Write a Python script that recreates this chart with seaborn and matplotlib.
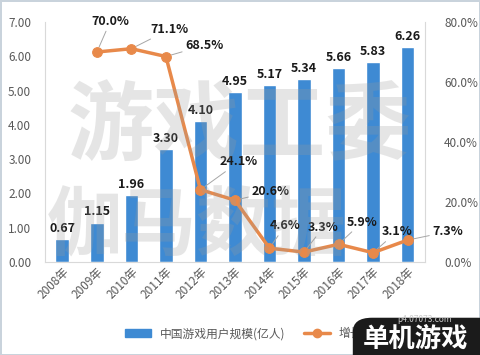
import matplotlib.pyplot as plt
import seaborn as sns
import numpy as np
import pandas as pd
from matplotlib.patches import FancyBboxPatch, Patch
from matplotlib.lines import Line2D

sns.set_style('white')
plt.rcParams['font.family'] = ['Noto Sans CJK SC', 'DejaVu Sans']
plt.rcParams['axes.unicode_minus'] = False

# 数据
years = ['2008年', '2009年', '2010年', '2011年', '2012年', '2013年',
         '2014年', '2015年', '2016年', '2017年', '2018年']
users = [0.67, 1.15, 1.96, 3.30, 4.10, 4.95, 5.17, 5.34, 5.66, 5.83, 6.26]
growth_years = years[1:]
growth = [70.0, 71.1, 68.5, 24.1, 20.6, 4.6, 3.3, 5.9, 3.1, 7.3]
# 增长率标签偏移（像素）
label_offsets = [(-4, 22), (14, 14), (14, 8), (14, 20), (12, 6),
                 (0, 16), (3, 18), (6, 16), (6, 15), (18, 6)]

bar_color = '#3E8AD3'
line_color = '#E8894A'
tick_color = '#595959'

df = pd.DataFrame({'year': years, 'users': users})
gdf = pd.DataFrame({'pos': [years.index(y) for y in growth_years], 'growth': growth})

fig = plt.figure(figsize=(4.8, 3.55), dpi=100)
ax = fig.add_axes([0.094, 0.262, 0.791, 0.676])

sns.barplot(data=df, x='year', y='users', color=bar_color, width=0.4,
            saturation=1, ax=ax, zorder=2)
ax.set_ylim(0, 7)
ax.set_yticks(np.arange(0, 7.01, 1))
ax.set_yticklabels([f'{v:.2f}' for v in np.arange(0, 7.01, 1)])
ax.set_xlim(-0.5, 10.5)
ax.set_xlabel('')
ax.set_ylabel('')
ax.tick_params(axis='x', rotation=45, labelsize=8.5, colors=tick_color, length=0, pad=2)
ax.tick_params(axis='y', labelsize=8.5, colors=tick_color, length=0, pad=10)
for lab in ax.get_xticklabels():
    lab.set_ha('right')
    lab.set_rotation_mode('anchor')
ax.spines['top'].set_visible(False)
for s in ['left', 'right', 'bottom']:
    ax.spines[s].set_color('#D9D9D9')
    ax.spines[s].set_linewidth(0.8)

for i, v in enumerate(users):
    ax.text(i, v + 0.12, f'{v:.2f}', ha='center', va='bottom',
            fontsize=9, fontweight='bold', color='#1A1A1A', zorder=5)

ax2 = ax.twinx()
sns.lineplot(data=gdf, x='pos', y='growth', color=line_color, lw=2.5,
             marker='o', markersize=7, markeredgecolor=line_color, ax=ax2, zorder=4)
ax2.set_ylim(0, 80)
ax2.set_yticks(np.arange(0, 81, 20))
ax2.set_yticklabels([f'{v:.1f}%' for v in np.arange(0, 81, 20)])
ax2.tick_params(axis='y', labelsize=8.5, colors=tick_color, length=0, pad=14)
ax2.set_ylabel('')
ax2.set_xlabel('')
ax2.set_xlim(-0.5, 10.5)
for s in ['top', 'left', 'right', 'bottom']:
    ax2.spines[s].set_visible(False)

for (p, g), (dx, dy) in zip(zip(gdf['pos'], growth), label_offsets):
    ax2.annotate(f'{g:.1f}%', xy=(p, g), xytext=(dx, dy), textcoords='offset points',
                 ha='left', va='center', fontsize=9, fontweight='bold', color='#1A1A1A',
                 arrowprops=dict(arrowstyle='-', color='#A6A6A6', lw=0.7,
                                 shrinkA=0, shrinkB=4))

# 水印
fig.text(0.5, 0.64, '游戏工委', ha='center', va='center', fontsize=62,
         fontweight='bold', color='#9A9A9A', alpha=0.25, zorder=10)
fig.text(0.41, 0.36, '伽马数据', ha='center', va='center', fontsize=54,
         fontweight='bold', color='#9A9A9A', alpha=0.25, zorder=10)

# 图例
handles = [Patch(color=bar_color),
           Line2D([0], [0], color=line_color, lw=2.5, marker='o', markersize=6)]
fig.legend(handles, ['中国游戏用户规模(亿人)', '增长率'], loc='center',
           bbox_to_anchor=(0.52, 0.06), ncol=2, frameon=False, fontsize=8.5,
           handlelength=2.2, columnspacing=1.5, labelcolor=tick_color)

# 右下角标识
badge = FancyBboxPatch((0.735, -0.05), 0.3, 0.155, boxstyle='round,pad=0,rounding_size=0.04',
                       transform=fig.transFigure, facecolor='#1B1B1B', edgecolor='none',
                       zorder=20)
fig.patches.append(badge)
fig.text(0.865, 0.045, '单机游戏', ha='center', va='center', fontsize=19,
         fontweight='bold', color='white', zorder=21)
fig.text(0.885, 0.1, 'p4.07073.com', ha='center', va='center', fontsize=6,
         color='#CCCCCC', zorder=21)

fig.patch.set_edgecolor('#C9D3DC')
fig.patch.set_linewidth(2)
fig.savefig('out.png', dpi=100)
